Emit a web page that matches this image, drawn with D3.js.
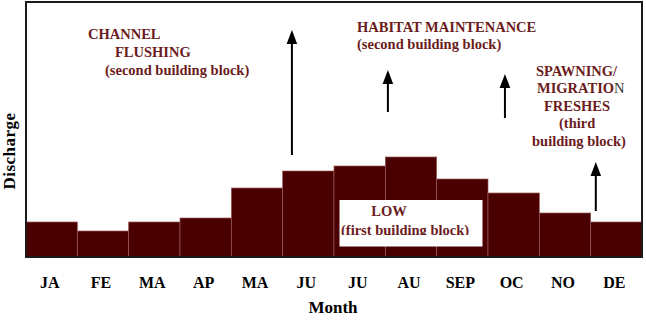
<!DOCTYPE html>
<html>
<head>
<meta charset="utf-8">
<script src="https://cdn.jsdelivr.net/npm/d3@7"></script>
<style>
  html, body { margin: 0; padding: 0; background: #fff; }
  svg { display: block; }
  text { font-family: "Liberation Serif", "Times New Roman", serif; font-weight: bold; }
</style>
</head>
<body>
<script>
// ---- data ----
const monthLabels = ["JA", "FE", "MA", "AP", "MA", "JU", "JU", "AU", "SEP", "OC", "NO", "DE"];
const discharge   = [35, 26, 35, 39, 69, 86, 91, 100, 78, 64, 44, 35];
// arrows: position along month axis (0..12) and discharge from/to
const arrowMonth  = [5.18, 7.05, 9.33, 11.1];
const arrowFrom   = [102, 145, 139, 46];
const arrowTo     = [227, 187, 183, 95];

const W = 646, H = 320;
const mLeft = 26, mRight = 642, mTop = 2, mBottom = 257;
const maroon = "#6b1c1c";

const svg = d3.select("body").append("svg").attr("width", W).attr("height", H);

const idx = d3.range(monthLabels.length);
const x = d3.scaleBand().domain(idx).range([mLeft, mRight]).padding(0);
const xc = d3.scaleLinear().domain([0, 12]).range([mLeft, mRight]);
const y = d3.scaleLinear().domain([0, 255]).range([mBottom, mTop]);

// bars
svg.append("g").selectAll("rect").data(idx).join("rect")
  .attr("x", i => x(i))
  .attr("y", i => y(discharge[i]))
  .attr("width", x.bandwidth())
  .attr("height", i => y(0) - y(discharge[i]))
  .attr("fill", "#4a0000")
  .attr("stroke", "#9a5a5a")
  .attr("stroke-width", 0.7);

// frame
svg.append("rect")
  .attr("x", mLeft).attr("y", mTop)
  .attr("width", mRight - mLeft).attr("height", mBottom - mTop)
  .attr("fill", "none").attr("stroke", "#1a1a1a").attr("stroke-width", 2);

// x axis labels
const xAxis = d3.axisBottom(x).tickSize(0).tickFormat(i => monthLabels[i]);
const gx = svg.append("g").attr("transform", `translate(-2,${mBottom})`).call(xAxis);
gx.select(".domain").remove();
gx.selectAll("text")
  .attr("y", 0).attr("dy", null)
  .attr("transform", "translate(0,30.5)")
  .style("font-family", '"Liberation Serif", "Times New Roman", serif')
  .style("font-weight", "bold")
  .style("font-size", "16px")
  .attr("fill", "#000");

// axis titles
svg.append("text").attr("x", 333).attr("y", 313).attr("text-anchor", "middle")
  .style("font-size", "17px").attr("fill", "#000").text("Month");
svg.append("text")
  .attr("transform", "translate(15,151) rotate(-90)")
  .attr("text-anchor", "middle")
  .style("font-size", "17px").style("letter-spacing", "0.5px")
  .attr("fill", "#000").text("Discharge");

// arrows
const arrows = svg.append("g");
arrowMonth.forEach((m, i) => {
  const ax = xc(m), y0 = y(arrowFrom[i]), y1 = y(arrowTo[i]);
  arrows.append("line").attr("x1", ax).attr("x2", ax).attr("y1", y0).attr("y2", y1 + 10)
    .attr("stroke", "#000").attr("stroke-width", 2);
  arrows.append("path")
    .attr("d", `M${ax},${y1} L${ax - 5.3},${y1 + 14} L${ax + 5.3},${y1 + 14} Z`)
    .attr("fill", "#000");
});

// annotations
function label(tx, ty, str, anchor) {
  return svg.append("text").attr("x", tx).attr("y", ty)
    .attr("text-anchor", anchor || "start")
    .style("font-size", "14.5px").attr("fill", maroon).text(str);
}
label(88, 39, "CHANNEL");
label(115, 57, "FLUSHING");
label(105, 75, "(second building block)");
label(357, 32, "HABITAT MAINTENANCE");
label(357, 49, "(second building block)");
label(536, 75.5, "SPAWNING/");
const mig = label(537, 93, "MIGRATIO");
mig.append("tspan").style("font-weight", "normal").attr("fill", "#333").text("N");
label(544, 111, "FRESHES");
label(559, 128, "(third");
label(532, 145.5, "building block)");

// LOW box
svg.append("rect").attr("x", 339.5).attr("y", 200).attr("width", 143).attr("height", 46.5)
  .attr("fill", "#fff");
svg.append("defs").append("clipPath").attr("id", "lowclip")
  .append("rect").attr("x", 330).attr("y", 195).attr("width", 160).attr("height", 40);
label(389, 215.5, "LOW", "middle");
label(341, 234.5, "(first building block)").attr("clip-path", "url(#lowclip)");
</script>
</body>
</html>
